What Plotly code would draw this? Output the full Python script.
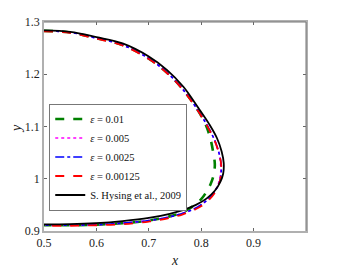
import plotly.graph_objects as go

# Reference: S. Hysing et al., 2009
hys_x = [0.5, 0.55, 0.6, 0.65, 0.70, 0.735, 0.766, 0.795, 0.815, 0.830, 0.839, 0.843, 0.842, 0.837, 0.826, 0.810, 0.790, 0.765, 0.74, 0.70, 0.65, 0.60, 0.55, 0.5]
hys_y = [1.284, 1.281, 1.271, 1.259, 1.234, 1.208, 1.176, 1.135, 1.105, 1.078, 1.052, 1.030, 1.010, 0.995, 0.977, 0.962, 0.950, 0.940, 0.933, 0.925, 0.919, 0.915, 0.913, 0.9125]

# eps = 0.01
e1_x = [0.5, 0.55, 0.6, 0.65, 0.70, 0.735, 0.766, 0.795, 0.810, 0.818, 0.823, 0.826, 0.824, 0.818, 0.810, 0.800, 0.785, 0.765, 0.74, 0.70, 0.65, 0.60, 0.55, 0.5]
e1_y = [1.283, 1.280, 1.269, 1.256, 1.230, 1.203, 1.170, 1.129, 1.100, 1.075, 1.050, 1.028, 1.008, 0.990, 0.975, 0.961, 0.948, 0.936, 0.928, 0.920, 0.915, 0.912, 0.911, 0.911]

# eps = 0.005
e2_x = [0.5, 0.55, 0.6, 0.65, 0.70, 0.735, 0.766, 0.795, 0.812, 0.826, 0.834, 0.837, 0.837, 0.833, 0.824, 0.809, 0.790, 0.765, 0.74, 0.70, 0.65, 0.60, 0.55, 0.5]
e2_y = [1.283, 1.280, 1.269, 1.256, 1.230, 1.203, 1.170, 1.129, 1.101, 1.073, 1.049, 1.029, 1.009, 0.991, 0.973, 0.957, 0.944, 0.934, 0.927, 0.920, 0.915, 0.912, 0.911, 0.911]

# eps = 0.0025
e3_x = [0.5, 0.55, 0.6, 0.65, 0.70, 0.735, 0.766, 0.795, 0.812, 0.826, 0.834, 0.838, 0.838, 0.834, 0.824, 0.809, 0.790, 0.765, 0.74, 0.70, 0.65, 0.60, 0.55, 0.5]
e3_y = [1.283, 1.280, 1.269, 1.256, 1.230, 1.203, 1.170, 1.129, 1.101, 1.073, 1.049, 1.029, 1.009, 0.991, 0.973, 0.957, 0.944, 0.934, 0.927, 0.920, 0.915, 0.912, 0.911, 0.911]

# eps = 0.00125
e4_x = [0.5, 0.55, 0.6, 0.65, 0.70, 0.735, 0.766, 0.795, 0.812, 0.826, 0.834, 0.838, 0.838, 0.834, 0.825, 0.810, 0.790, 0.765, 0.74, 0.70, 0.65, 0.60, 0.55, 0.5]
e4_y = [1.282, 1.279, 1.268, 1.255, 1.229, 1.202, 1.169, 1.128, 1.100, 1.072, 1.048, 1.028, 1.008, 0.990, 0.972, 0.955, 0.942, 0.932, 0.925, 0.918, 0.913, 0.911, 0.910, 0.910]

names = ["<i>ε</i> = 0.01", "<i>ε</i> = 0.005", "<i>ε</i> = 0.0025", "<i>ε</i> = 0.00125", "S. Hysing et al., 2009"]
x_ticks = [0.5, 0.6, 0.7, 0.8, 0.9]
x_tick_text = ["0.5", "0.6", "0.7", "0.8", "0.9"]
y_ticks = [0.9, 1.0, 1.1, 1.2, 1.3]
y_tick_text = ["0.9", "1", "1.1", "1.2", "1.3"]

series = [
    (e1_x, e1_y, names[0], dict(color="#008000", width=2.6, dash="dash")),
    (e2_x, e2_y, names[1], dict(color="#ff00ff", width=1.6, dash="dot")),
    (e3_x, e3_y, names[2], dict(color="#0000ff", width=1.6, dash="dashdot")),
    (e4_x, e4_y, names[3], dict(color="#ff0000", width=1.8, dash="dash")),
    (hys_x, hys_y, names[4], dict(color="#000000", width=1.8)),
]

fig = go.Figure()
for xs, ys, nm, ln in series:
    fig.add_trace(go.Scatter(x=xs, y=ys, mode="lines", name=nm, line=dict(shape="spline", **ln)))

font_fam = "Liberation Serif"
axis_common = dict(
    showgrid=False, zeroline=False, ticks="inside", ticklen=3, tickcolor="#666666",
    showline=True, linecolor="#b0b0b0", linewidth=1.5, mirror="ticks",
    tickfont=dict(family=font_fam, size=12, color="#222222"), automargin=False,
)
fig.update_xaxes(range=[0.5, 1.0], tickvals=x_ticks, ticktext=x_tick_text,
                 title=dict(text="<i>x</i>", font=dict(family=font_fam, size=14, color="#222222")),
                 **axis_common)
fig.update_yaxes(range=[0.9, 1.3], tickvals=y_ticks, ticktext=y_tick_text, **axis_common)

fig.update_layout(
    width=331, height=260,
    margin=dict(l=36, r=33, t=14, b=37),
    paper_bgcolor="white", plot_bgcolor="white",
    font=dict(family=font_fam, size=11, color="#111111"),
    legend=dict(x=0.02, y=0.61, xanchor="left", yanchor="top",
                bgcolor="white", bordercolor="#777777", borderwidth=1,
                font=dict(family=font_fam, size=10.5), itemwidth=30,
                tracegroupgap=0),
    annotations=[
        dict(text="<i>y</i>", xref="paper", yref="paper", x=-0.105, y=0.49,
             xanchor="center", yanchor="middle", showarrow=False, textangle=-90,
             font=dict(family=font_fam, size=14, color="#222222")),
    ],
    shapes=[
        dict(type="line", xref="paper", yref="paper", x0=0, x1=1, y0=1, y1=1, line=dict(color="#777777", width=1)),
        dict(type="line", xref="paper", yref="paper", x0=1, x1=1, y0=0, y1=1, line=dict(color="#777777", width=1)),
    ],
)

fig.write_html("out.html")
